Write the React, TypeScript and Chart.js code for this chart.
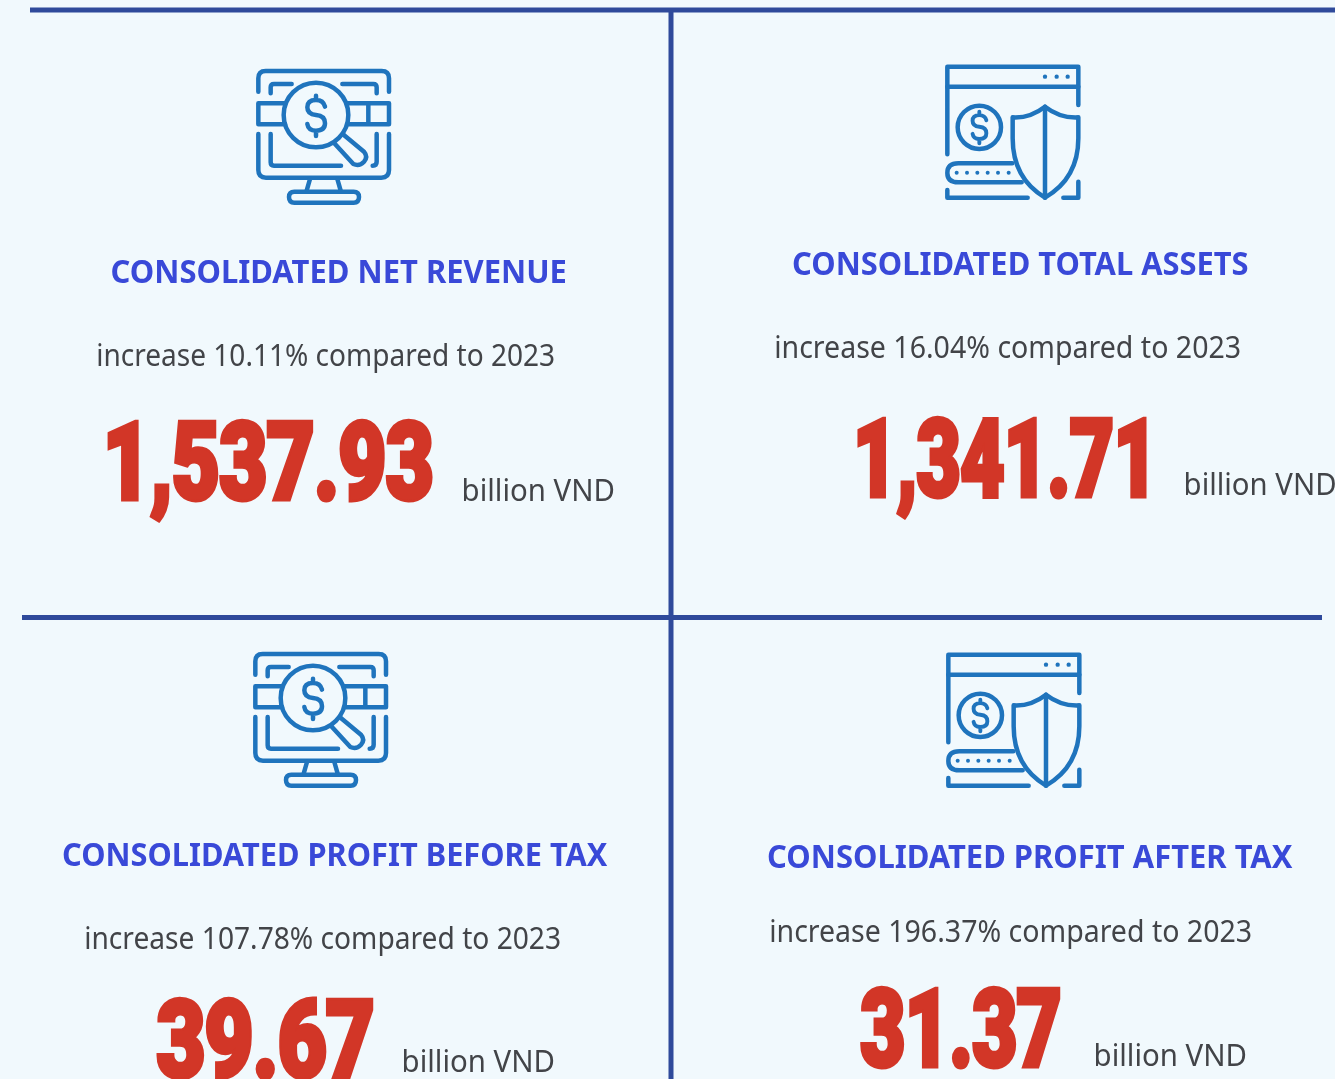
import React, { useEffect, useRef } from "react";
import { Chart, registerables } from "chart.js";

Chart.register(...registerables);

const metricNames = [
  "CONSOLIDATED NET REVENUE",
  "CONSOLIDATED TOTAL ASSETS",
  "CONSOLIDATED PROFIT BEFORE TAX",
  "CONSOLIDATED PROFIT AFTER TAX",
];
const changeLabels = [
  "increase 10.11% compared to 2023",
  "increase 16.04% compared to 2023",
  "increase 107.78% compared to 2023",
  "increase 196.37% compared to 2023",
];
const metricValues = ["1,537.93", "1,341.71", "39.67", "31.37"];
const unitLabel = "billion VND";

const WIDTH = 1335;
const HEIGHT = 1079;
const BG = "#f1f9fd";
const LINE = "#2f4a9b";
const ICON = "#1f74bd";
const TITLE = "#3949d8";
const BODY = "#424448";
const RED = "#d23627";

// [x0, y0, x1, y1] of the frame rules
const rules = [
  [30, 10, 1335, 10],
  [671, 10, 671, 1079],
  [22, 617.5, 1322, 617.5],
];

type Slot = { l: number; r: number; b: number };
const layout: { title: Slot; change: Slot; value: Slot; unit: Slot; icon: number[]; kind: string }[] = [
  {
    title: { l: 111.5, r: 566, b: 283 },
    change: { l: 98, r: 553.5, b: 366 },
    value: { l: 107, r: 433, b: 501 },
    unit: { l: 463.5, r: 613.5, b: 501 },
    icon: [240, 55],
    kind: "monitor",
  },
  {
    title: { l: 793, r: 1248, b: 275 },
    change: { l: 776, r: 1239.5, b: 358 },
    value: { l: 857, r: 1147, b: 498 },
    unit: { l: 1185.5, r: 1335, b: 495 },
    icon: [930, 55],
    kind: "shield",
  },
  {
    title: { l: 63, r: 608, b: 866 },
    change: { l: 86, r: 559.5, b: 949 },
    value: { l: 156, r: 374, b: 1079 },
    unit: { l: 403.5, r: 553.5, b: 1072 },
    icon: [237, 638],
    kind: "monitor",
  },
  {
    title: { l: 768, r: 1293, b: 868 },
    change: { l: 771, r: 1250.5, b: 942 },
    value: { l: 860, r: 1061, b: 1068 },
    unit: { l: 1095.5, r: 1245.5, b: 1066 },
    icon: [931, 643],
    kind: "shield",
  },
];

const dollar =
  "M255 155 Q250 135 228 135 Q202 135 202 157 Q202 178 228 180 Q255 182 255 205 Q255 227 228 227 Q205 227 202 207 M228 122 V135 M228 227 V243";

const monitorPaths = [
  "M55 110 V70 Q55 48 77 48 H425 Q447 48 447 70 V110",
  "M55 237 V345 Q55 368 78 368 H424 Q447 368 447 345 V237",
  "M135 145 H55 V208 H135 M322 145 H447 V208 H325 M385 145 V208",
  "M92 115 V97 Q92 87 102 87 H155 M307 87 H400 Q410 87 410 97 V115",
  "M92 237 V322 Q92 332 102 332 H303 M410 237 V320 Q410 332 398 332",
  "M325 180 A97 97 0 1 1 131 180 A97 97 0 1 1 325 180 Z",
  dollar,
  "M308 237 L372 290 Q385 305 372 320 Q358 335 340 327 L283 265",
  "M210 372 L200 407 M292 372 L302 407",
  "M163 410 H341 Q357 410 357 426 Q357 443 341 443 H163 Q147 443 147 426 Q147 410 163 410 Z",
];

const shieldPaths = [
  "M52 298 V35 H445 V150",
  "M52 95 H445",
  "M213 217 A65 65 0 1 1 83 217 A65 65 0 1 1 213 217 Z",
  "M247 325 H85 Q52 325 52 354 Q52 382 85 382 H275",
  "M345 155 Q300 190 248 187 V250 Q248 370 345 428 Q445 370 445 250 V187 Q390 190 345 155 Z",
  "M345 155 V428",
  "M52 405 V428 H293",
  "M400 428 H445 V380",
];
const shieldDots = [
  [345, 65, 6.5],
  [380, 65, 6.5],
  [413, 65, 6.5],
  [80, 353, 6],
  [111, 353, 6],
  [142, 353, 6],
  [173, 353, 6],
  [204, 353, 6],
  [236, 353, 6],
];

function drawIcon(ctx: CanvasRenderingContext2D, kind: string, ox: number, oy: number) {
  ctx.save();
  ctx.translate(ox, oy);
  ctx.scale(1 / 3, 1 / 3);
  ctx.strokeStyle = ICON;
  ctx.fillStyle = ICON;
  ctx.lineWidth = 13.5;
  ctx.lineCap = "round";
  ctx.lineJoin = "round";
  const paths = kind === "monitor" ? monitorPaths : shieldPaths;
  paths.forEach((p) => ctx.stroke(new Path2D(p)));
  if (kind === "shield") {
    ctx.save();
    ctx.translate(148, 217);
    ctx.scale(0.78, 0.78);
    ctx.translate(-228, -182);
    ctx.lineWidth = 15;
    ctx.stroke(new Path2D(dollar));
    ctx.restore();
    shieldDots.forEach(([x, y, r]) => {
      ctx.beginPath();
      ctx.arc(x, y, r, 0, Math.PI * 2);
      ctx.fill();
    });
  }
  ctx.restore();
}

function fitText(
  ctx: CanvasRenderingContext2D,
  text: string,
  slot: Slot,
  font: string,
  color: string,
  heavy = 0,
  tracking = 0,
) {
  ctx.save();
  ctx.font = font;
  (ctx as any).letterSpacing = `${tracking}px`;
  ctx.fillStyle = color;
  ctx.textBaseline = "alphabetic";
  ctx.textAlign = "left";
  const m = ctx.measureText(text);
  const inkL = -m.actualBoundingBoxLeft;
  const inkW = m.actualBoundingBoxRight + m.actualBoundingBoxLeft + heavy;
  const sx = (slot.r - slot.l) / inkW;
  ctx.translate(slot.l + heavy * sx * 0.5, slot.b - heavy * 0.5);
  ctx.scale(sx, 1);
  ctx.translate(-inkL, 0);
  if (heavy) {
    ctx.strokeStyle = color;
    ctx.lineWidth = heavy;
    ctx.lineJoin = "miter";
    ctx.miterLimit = 2;
    ctx.strokeText(text, 0, 0);
  }
  ctx.fillText(text, 0, 0);
  ctx.restore();
}

const panelPlugin = {
  id: "panels",
  beforeDraw(chart: any) {
    const { ctx } = chart;
    ctx.save();
    ctx.fillStyle = BG;
    ctx.fillRect(0, 0, chart.width, chart.height);
    ctx.restore();
  },
  afterDatasetsDraw(chart: any) {
    const { ctx } = chart;
    const sx = chart.scales.x;
    const sy = chart.scales.y;
    const map = (s: Slot): Slot => ({
      l: sx.getPixelForValue(s.l),
      r: sx.getPixelForValue(s.r),
      b: sy.getPixelForValue(s.b),
    });
    layout.forEach((c, i) => {
      drawIcon(ctx, c.kind, sx.getPixelForValue(c.icon[0]), sy.getPixelForValue(c.icon[1]));
      fitText(ctx, metricNames[i], map(c.title), '700 32px "Noto Sans"', TITLE);
      fitText(ctx, changeLabels[i], map(c.change), '400 31px "Noto Sans"', BODY);
      fitText(ctx, metricValues[i], map(c.value), "900 108px Roboto", RED, 5, -1);
      fitText(ctx, unitLabel, map(c.unit), '400 31px "Noto Sans"', BODY);
    });
  },
};

export default function App() {
  const ref = useRef<HTMLCanvasElement>(null);
  useEffect(() => {
    document.body.style.margin = "0";
    document.body.style.background = BG;
    const chart = new Chart(ref.current!, {
      type: "scatter",
      data: {
        datasets: rules.map(([x0, y0, x1, y1]) => ({
          data: [
            { x: x0, y: y0 },
            { x: x1, y: y1 },
          ],
          showLine: true,
          borderColor: LINE,
          borderWidth: 5,
          pointRadius: 0,
          clip: false,
        })),
      },
      options: {
        animation: false,
        responsive: false,
        layout: { padding: 0 },
        plugins: { legend: { display: false }, tooltip: { enabled: false }, title: { display: false } },
        scales: {
          x: { type: "linear", min: 0, max: WIDTH, display: false },
          y: { type: "linear", min: 0, max: HEIGHT, reverse: true, display: false },
        },
      },
      plugins: [panelPlugin],
    } as any);
    return () => chart.destroy();
  }, []);
  return (
    <div style={{ width: WIDTH, height: HEIGHT, overflow: "hidden" }}>
      <canvas ref={ref} width={WIDTH} height={HEIGHT} style={{ display: "block" }} />
    </div>
  );
}
